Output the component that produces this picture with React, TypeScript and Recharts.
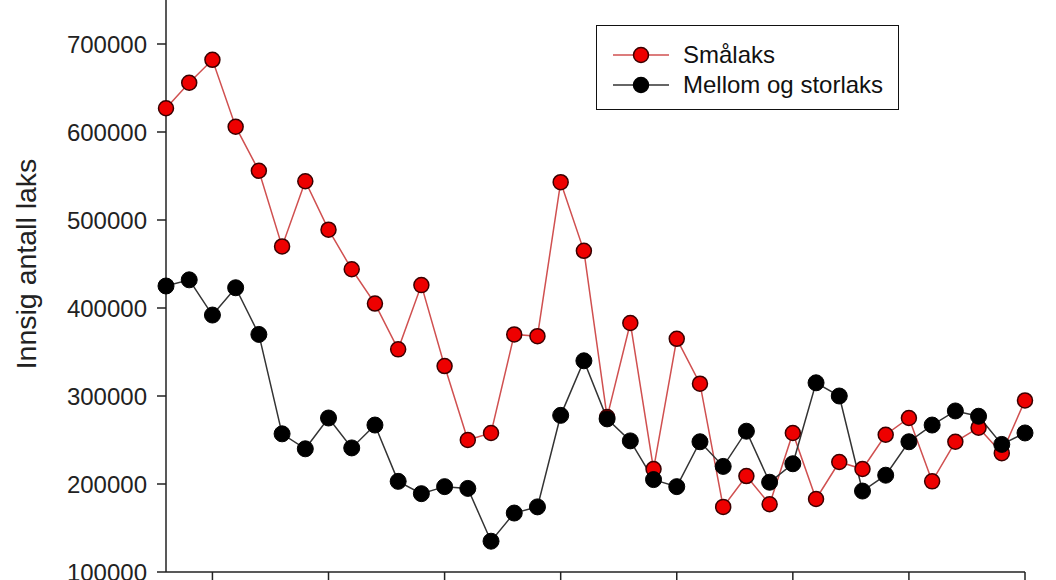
import { Label, Legend, Line, LineChart, XAxis, YAxis } from "recharts";

// år 1983–2020
const years = [
  1983, 1984, 1985, 1986, 1987, 1988, 1989, 1990, 1991, 1992, 1993, 1994, 1995,
  1996, 1997, 1998, 1999, 2000, 2001, 2002, 2003, 2004, 2005, 2006, 2007, 2008,
  2009, 2010, 2011, 2012, 2013, 2014, 2015, 2016, 2017, 2018, 2019, 2020,
];

const smalaks = [
  627000, 656000, 682000, 606000, 556000, 470000, 544000, 489000, 444000,
  405000, 353000, 426000, 334000, 250000, 258000, 370000, 368000, 543000,
  465000, 276000, 383000, 217000, 365000, 314000, 174000, 209000, 177000,
  258000, 183000, 225000, 217000, 256000, 275000, 203000, 248000, 264000,
  235000, 295000,
];

const mellomStorlaks = [
  425000, 432000, 392000, 423000, 370000, 257000, 240000, 275000, 241000,
  267000, 203000, 189000, 197000, 195000, 135000, 167000, 174000, 278000,
  340000, 274000, 249000, 205000, 197000, 248000, 220000, 260000, 202000,
  223000, 315000, 300000, 192000, 210000, 248000, 267000, 283000, 277000,
  245000, 258000,
];

const yTicks = [100000, 200000, 300000, 400000, 500000, 600000, 700000];
const xTicks = [1985, 1990, 1995, 2000, 2005, 2010, 2015, 2020];

const seriesNames = ["Smålaks", "Mellom og storlaks"];
const seriesColors = ["#ee0000", "#000000"];
const lineColors = ["#d05050", "#333333"];

const data = years.map((year, i) => ({
  year,
  small: smalaks[i],
  big: mellomStorlaks[i],
}));

const font = "'Liberation Sans', Arial, sans-serif";

function LegendBox() {
  return (
    <div
      style={{
        width: 303,
        height: 85,
        border: "1.5px solid #111",
        boxSizing: "border-box",
        background: "#fff",
        fontFamily: font,
        fontSize: 24,
        color: "#111",
        paddingTop: 14,
      }}
    >
      {seriesNames.map((name, i) => (
        <div
          key={name}
          style={{ display: "flex", alignItems: "center", height: 30 }}
        >
          <svg width={86} height={24} style={{ flex: "none" }}>
            <line x1={16} y1={12} x2={72} y2={12} stroke={lineColors[i]} strokeWidth={1.5} />
            <circle
              cx={44}
              cy={12}
              r={7.5}
              fill={seriesColors[i]}
              stroke={i === 0 ? "#3a0000" : "#000"}
              strokeWidth={1.5}
            />
          </svg>
          <span style={{ lineHeight: "24px" }}>{name}</span>
        </div>
      ))}
    </div>
  );
}

export default function App() {
  return (
    <div style={{ position: "absolute", left: 0, top: 0, background: "#fff" }}>
      <LineChart
        width={1056}
        height={580}
        data={data}
        margin={{ top: 0, right: 31, bottom: 0, left: 0 }}
      >
        <XAxis
          dataKey="year"
          type="number"
          domain={[1983, 2020]}
          ticks={xTicks}
          tickFormatter={() => ""}
          tickSize={9}
          height={8}
          axisLine={{ stroke: "#222", strokeWidth: 1.5 }}
          tickLine={{ stroke: "#222", strokeWidth: 1.5 }}
        />
        <YAxis
          type="number"
          domain={[100000, 750000]}
          ticks={yTicks}
          interval={0}
          width={166}
          tickSize={9}
          tickMargin={10}
          axisLine={{ stroke: "#222", strokeWidth: 1.5 }}
          tickLine={{ stroke: "#222", strokeWidth: 1.5 }}
          tick={{ fill: "#222", fontSize: 24, fontFamily: font }}
        >
          <Label
            content={() => (
              <text
                x={36}
                y={264}
                transform="rotate(-90 36 264)"
                textAnchor="middle"
                fill="#222"
                fontSize={28.5}
                fontFamily={font}
              >
                Innsig antall laks
              </text>
            )}
          />
        </YAxis>
        <Legend
          layout="vertical"
          align="center"
          verticalAlign="middle"
          content={() => <LegendBox />}
          wrapperStyle={{ left: 596, top: 25, width: 303 }}
        />
        <Line
          type="linear"
          dataKey="small"
          name={seriesNames[0]}
          stroke={lineColors[0]}
          strokeWidth={1.5}
          dot={{ r: 7.5, fill: seriesColors[0], stroke: "#3a0000", strokeWidth: 1.5 }}
          isAnimationActive={false}
        />
        <Line
          type="linear"
          dataKey="big"
          name={seriesNames[1]}
          stroke={lineColors[1]}
          strokeWidth={1.5}
          dot={{ r: 8, fill: seriesColors[1], stroke: "#000", strokeWidth: 1 }}
          isAnimationActive={false}
        />
      </LineChart>
    </div>
  );
}
